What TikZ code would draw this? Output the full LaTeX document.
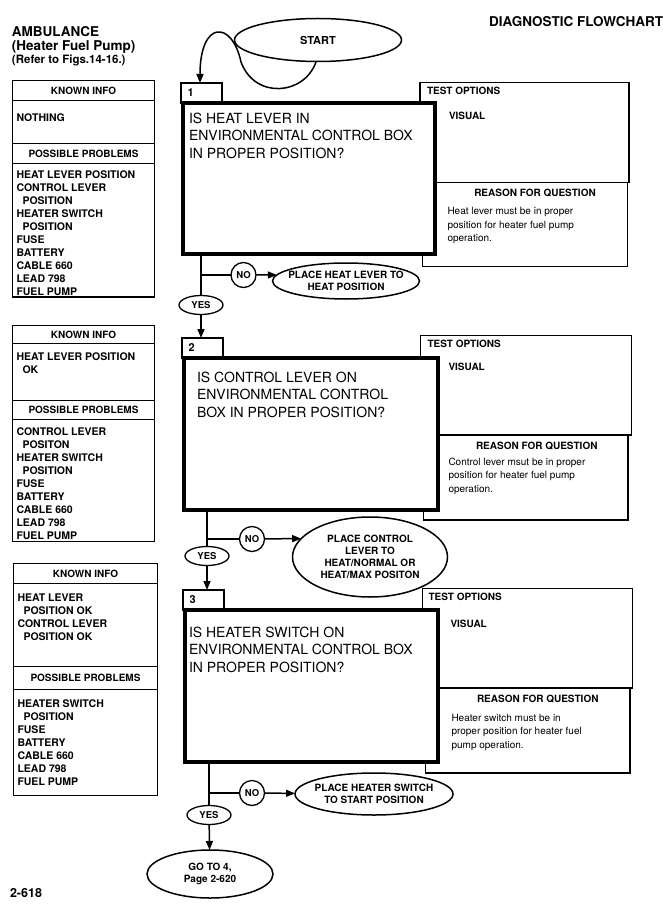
\documentclass[tikz,border=0pt]{standalone}
\usepackage{fontspec}
\setmainfont{TeX Gyre Heros}
\usetikzlibrary{arrows.meta,calc,positioning,shapes.geometric}
\newcommand{\indnt}{\hspace*{6pt}}
\tikzset{title/.style={anchor=base west,inner sep=0pt,font=\fontsize{13.5}{16}\selectfont\bfseries},
  qbox/.style={draw,line width=4pt,fill=white,anchor=north west,inner sep=0pt},
  qtext/.style={anchor=north west,align=left,inner sep=0pt,font=\fontsize{14}{17.5}\selectfont},
  numtab/.style={draw,line width=1.3pt,fill=white,anchor=south west,minimum width=41pt,minimum height=20pt,
    inner xsep=6pt,text width=28pt,align=left,font=\fontsize{11}{13}\selectfont\bfseries},
  testbox/.style={draw,line width=1.7pt,fill=white,anchor=north west,inner sep=0pt},
  headtext/.style={anchor=north west,inner sep=0pt,font=\fontsize{10}{12}\selectfont\bfseries},
  bodytext/.style={anchor=north west,align=left,inner sep=0pt,font=\fontsize{10}{13.5}\selectfont},
  infobox/.style={draw,line width=1.3pt,anchor=north west,inner sep=0pt,minimum width=142pt},
  infohead/.style={draw,line width=1.3pt,anchor=north,inner sep=0pt,minimum width=142pt,minimum height=20pt,
    font=\fontsize{10}{12}\selectfont\bfseries},
  infotext/.style={anchor=north west,align=left,inner sep=0pt,font=\fontsize{10.5}{13}\selectfont\bfseries},
  term/.style={draw,ellipse,line width=1.5pt,fill=white,inner xsep=-16pt,inner ysep=-6pt,align=center,
    font=\fontsize{10}{12.5}\selectfont\bfseries},
  nocirc/.style={draw,circle,line width=1.3pt,fill=white,inner sep=0pt,minimum size=25pt,
    font=\fontsize{9.5}{11}\selectfont\bfseries},
  yesell/.style={draw,ellipse,line width=1.3pt,fill=white,inner sep=0pt,minimum width=44pt,minimum height=19pt,
    font=\fontsize{9.5}{11}\selectfont\bfseries},
  wire/.style={line width=1.5pt},
  arr/.style={wire,-{Triangle[length=9pt,width=7pt]}}}

\begin{document}
\begin{tikzpicture}[x=1pt,y=1pt,every node/.append style={outer sep=0pt}]
\useasboundingbox (0,0) rectangle (662,-909);

\node[title] (amb) at (12,-37) {AMBULANCE};
\node[title] (sub) at (12,-51) {(Heater Fuel Pump)};
\node[title,font=\fontsize{11.5}{14}\selectfont\bfseries] (refer) at (12,-64) {(Refer to Figs.14-16.)};
\node[title] (diag) at (489,-27) {DIAGNOSTIC FLOWCHART};
\node[term,minimum width=167pt,minimum height=43pt,font=\fontsize{11}{13}\selectfont\bfseries] (start) at (318,-40) {START};

% left panels
\node[infobox,minimum height=216.5pt] (k1) at (12.5,-80.5) {};
\node[infohead] (k1h) at (k1.north) {KNOWN INFO};
\node[infotext] (k1t) at ($(k1.north west)+(4,-33)$) {NOTHING};
\node[infohead] (p1h) at ($(k1.north)+(0,-63)$) {POSSIBLE PROBLEMS};
\node[infotext] (p1t) at ($(k1.north west)+(4,-90)$) {HEAT LEVER POSITION\\CONTROL LEVER\\\indnt POSITION\\HEATER SWITCH\\\indnt POSITION\\FUSE\\BATTERY\\CABLE 660\\LEAD 798\\FUEL PUMP};

\node[infobox,minimum height=216pt] (k2) at (12.5,-325.5) {};
\node[infohead,minimum height=18pt] (k2h) at (k2.north) {KNOWN INFO};
\node[infotext] (k2t) at ($(k2.north west)+(4,-27)$) {HEAT LEVER POSITION\\\indnt OK};
\node[infohead,minimum height=19pt] (p2h) at ($(k2.north)+(0,-75)$) {POSSIBLE PROBLEMS};
\node[infotext] (p2t) at ($(k2.north west)+(4,-102)$) {CONTROL LEVER\\\indnt POSITON\\HEATER SWITCH\\\indnt POSITION\\FUSE\\BATTERY\\CABLE 660\\LEAD 798\\FUEL PUMP};

\node[infobox,minimum width=144pt,minimum height=232pt] (k3) at (13.5,-563.5) {};
\node[infohead,minimum width=144pt] (k3h) at (k3.north) {KNOWN INFO};
\node[infotext] (k3t) at ($(k3.north west)+(4,-30)$) {HEAT LEVER\\\indnt POSITION OK\\CONTROL LEVER\\\indnt POSITION OK};
\node[infohead,minimum width=144pt,minimum height=23pt] (p3h) at ($(k3.north)+(0,-103)$) {POSSIBLE PROBLEMS};
\node[infotext] (p3t) at ($(k3.north west)+(4,-136)$) {HEATER SWITCH\\\indnt POSITION\\FUSE\\BATTERY\\CABLE 660\\LEAD 798\\FUEL PUMP};

% question 1
\node[testbox,minimum width=209pt,minimum height=100pt] (t1) at (420,-82.5) {};
\node[testbox,line width=1.3pt,minimum width=205pt,minimum height=84pt] (r1) at (422.5,-182.5) {};
\node[numtab] (n1) at (181,-103) {1};
\node[qbox,minimum width=252pt,minimum height=151pt] (q1) at (183,-103) {};
\node[qtext] (q1t) at ($(q1.north west)+(6,-10)$) {IS HEAT LEVER IN\\ENVIRONMENTAL CONTROL BOX\\IN PROPER POSITION?};
\node[headtext] (t1h) at ($(t1.north west)+(7,-5)$) {TEST OPTIONS};
\node[headtext] (t1v) at ($(t1.north west)+(29,-30)$) {VISUAL};
\node[headtext,anchor=north] (r1h) at ($(r1.north)+(10,-7)$) {REASON FOR QUESTION};
\node[bodytext] (r1t) at ($(r1.north west)+(25,-25)$) {Heat lever must be in proper\\position for heater fuel pump\\operation.};
\node[yesell] (yes1) at (201,-305) {YES};
\node[nocirc] (no1) at (243.5,-275) {NO};
\node[term,minimum width=147pt,minimum height=36pt] (fix1) at (346,-281) {PLACE HEAT LEVER TO\\HEAT POSITION};

% question 2
\node[testbox,minimum width=211pt,minimum height=99.5pt] (t2) at (420.5,-335.5) {};
\node[testbox,line width=1.3pt,minimum width=204.5pt,minimum height=85pt] (r2) at (423.5,-435) {};
\node[numtab] (n2) at (182,-358) {2};
\node[qbox,minimum width=254pt,minimum height=152pt] (q2) at (184,-358) {};
\node[qtext] (q2t) at ($(q2.north west)+(13,-14)$) {IS CONTROL LEVER ON\\ENVIRONMENTAL CONTROL\\BOX IN PROPER POSITION?};
\node[headtext] (t2h) at ($(t2.north west)+(7,-5)$) {TEST OPTIONS};
\node[headtext] (t2v) at ($(t2.north west)+(28,-28)$) {VISUAL};
\node[headtext,anchor=north] (r2h) at ($(r2.north)+(11,-7)$) {REASON FOR QUESTION};
\node[bodytext] (r2t) at ($(r2.north west)+(25,-23)$) {Control lever msut be in proper\\position for heater fuel pump\\operation.};
\node[yesell] (yes2) at (207,-556) {YES};
\node[nocirc] (no2) at (252,-539) {NO};
\node[term,minimum width=155pt,minimum height=80pt,font=\fontsize{10}{12}\selectfont\bfseries] (fix2) at (370,-557) {PLACE CONTROL\\LEVER TO\\HEAT/NORMAL OR\\HEAT/MAX POSITON};

% question 3
\node[testbox,minimum width=210pt,minimum height=99.5pt] (t3) at (422.5,-588.5) {};
\node[testbox,line width=1.3pt,minimum width=204.5pt,minimum height=85pt] (r3) at (425.5,-688) {};
\node[numtab] (n3) at (183,-610) {3};
\node[qbox,minimum width=253pt,minimum height=152pt] (q3) at (185,-610) {};
\node[qtext] (q3t) at ($(q3.north west)+(4,-17)$) {IS HEATER SWITCH ON\\ENVIRONMENTAL CONTROL BOX\\IN PROPER POSITION?};
\node[headtext] (t3h) at ($(t3.north west)+(6,-5)$) {TEST OPTIONS};
\node[headtext] (t3v) at ($(t3.north west)+(28,-32)$) {VISUAL};
\node[headtext,anchor=north] (r3h) at ($(r3.north)+(10,-7)$) {REASON FOR QUESTION};
\node[bodytext] (r3t) at ($(r3.north west)+(26,-26)$) {Heater switch must be in\\proper position for heater fuel\\pump operation.};
\node[yesell] (yes3) at (209,-815) {YES};
\node[nocirc] (no3) at (252,-793) {NO};
\node[term,minimum width=158pt,minimum height=42pt] (fix3) at (374,-794) {PLACE HEATER SWITCH\\TO START POSITION};
\node[term,minimum width=126pt,minimum height=48pt] (goto) at (210,-874) {GO TO 4,\\Page 2-620};

\node[title,font=\fontsize{12.5}{15}\selectfont\bfseries] (pg) at (10,-897) {2-618};

% connectors
\coordinate (loop) at (241,-62);
\draw[arr] (start.265) .. controls (305,-95) and (255,-100) .. (loop)
  .. controls (232,-20) and (200,-20) .. ($(n1.north west)+(19,0)$);

\draw[wire] (yes1 |- q1.south) -- (yes1.north);
\draw[wire] (yes1 |- no1) -- (no1);
\draw[arr] (no1) -- (fix1.175);
\draw[arr] (yes1) -- (yes1 |- n2.north);

\draw[wire] (yes2 |- q2.south) -- (yes2.north);
\draw[wire] (yes2 |- no2) -- (no2);
\draw[arr] (no2) -- (fix2.165);
\draw[arr] (yes2) -- (yes2 |- n3.north);

\draw[wire] (yes3 |- q3.south) -- (yes3.north);
\draw[wire] (yes3 |- no3) -- (no3);
\draw[arr] (no3) -- (fix3);
\draw[arr] (yes3) -- (goto);
\end{tikzpicture}
\end{document}
